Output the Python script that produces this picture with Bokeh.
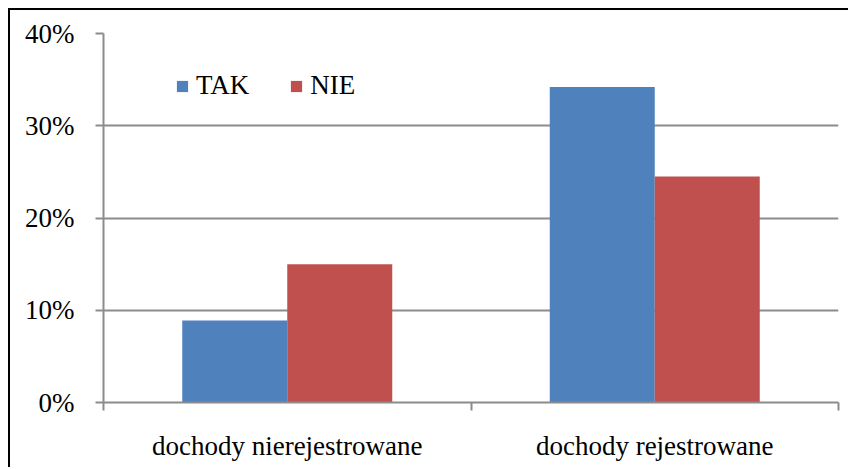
from bokeh.plotting import figure
from bokeh.models import ColumnDataSource, FixedTicker, NumeralTickFormatter, Range1d, Legend, LegendItem
from bokeh.embed import file_html
from bokeh.resources import INLINE

categories = ["dochody nierejestrowane", "dochody rejestrowane"]
series_names = ["TAK", "NIE"]
tak = [0.089, 0.342]
nie = [0.150, 0.245]
y_ticks = [0, 0.1, 0.2, 0.3, 0.4]

colors = ["#4F81BD", "#C0504D"]
FONT = "Liberation Serif"
FS = "27px"
bar_w = 1 / 3.5

centers = [i + 0.5 for i in range(len(categories))]
src = ColumnDataSource(dict(
    x_tak=[c - bar_w / 2 for c in centers],
    x_nie=[c + bar_w / 2 for c in centers],
    tak=tak, nie=nie,
))

p = figure(width=840, height=459, output_backend="svg", toolbar_location=None,
           x_range=Range1d(0, len(categories)), y_range=Range1d(0, 0.4),
           min_border_left=93, min_border_top=23, min_border_right=12, min_border_bottom=67)
p.styles = {"margin-left": "8px", "margin-top": "8px",
            "border-left": "2px solid black", "border-top": "2px solid black"}
p.outline_line_color = None
p.background_fill_color = "white"
p.border_fill_color = "white"

r1 = p.vbar(x="x_tak", top="tak", width=bar_w, source=src, fill_color=colors[0], line_color=None)
r2 = p.vbar(x="x_nie", top="nie", width=bar_w, source=src, fill_color=colors[1], line_color=None)

grid_col = "#8c8c8c"
# y axis
p.yaxis.ticker = FixedTicker(ticks=y_ticks)
p.yaxis.formatter = NumeralTickFormatter(format="0%")
p.yaxis.axis_line_color = grid_col
p.yaxis.axis_line_width = 2
p.yaxis.major_tick_line_color = grid_col
p.yaxis.major_tick_line_width = 2
p.yaxis.major_tick_out = 8
p.yaxis.major_tick_in = 0
p.yaxis.minor_tick_line_color = None
p.yaxis.major_label_standoff = 21
p.yaxis.major_label_text_font = FONT
p.yaxis.major_label_text_font_size = FS
p.yaxis.major_label_text_color = "black"

# x axis
p.xaxis.ticker = FixedTicker(ticks=centers, minor_ticks=list(range(len(categories) + 1)))
p.xaxis.major_label_overrides = {c: cat for c, cat in zip(centers, categories)}
p.xaxis.axis_line_color = grid_col
p.xaxis.axis_line_width = 2
p.xaxis.major_tick_line_color = None
p.xaxis.major_tick_out = 0
p.xaxis.major_tick_in = 0
p.xaxis.minor_tick_line_color = grid_col
p.xaxis.minor_tick_line_width = 2
p.xaxis.minor_tick_out = 8
p.xaxis.minor_tick_in = 0
p.xaxis.major_label_standoff = 20
p.xaxis.major_label_text_font = FONT
p.xaxis.major_label_text_font_size = FS
p.xaxis.major_label_text_color = "black"

p.xgrid.grid_line_color = None
p.ygrid.ticker = FixedTicker(ticks=y_ticks)
p.ygrid.grid_line_color = grid_col
p.ygrid.grid_line_width = 2

legend = Legend(items=[LegendItem(label=series_names[0], renderers=[r1]),
                       LegendItem(label=series_names[1], renderers=[r2])],
                orientation="horizontal", location=(72, 301),
                padding=0, margin=0, spacing=40, label_standoff=7,
                glyph_width=14, glyph_height=14,
                label_text_font=FONT, label_text_font_size=FS, label_text_color="black",
                border_line_color=None, background_fill_alpha=0)
p.add_layout(legend)

open("out.html", "w").write(file_html(p, INLINE))
